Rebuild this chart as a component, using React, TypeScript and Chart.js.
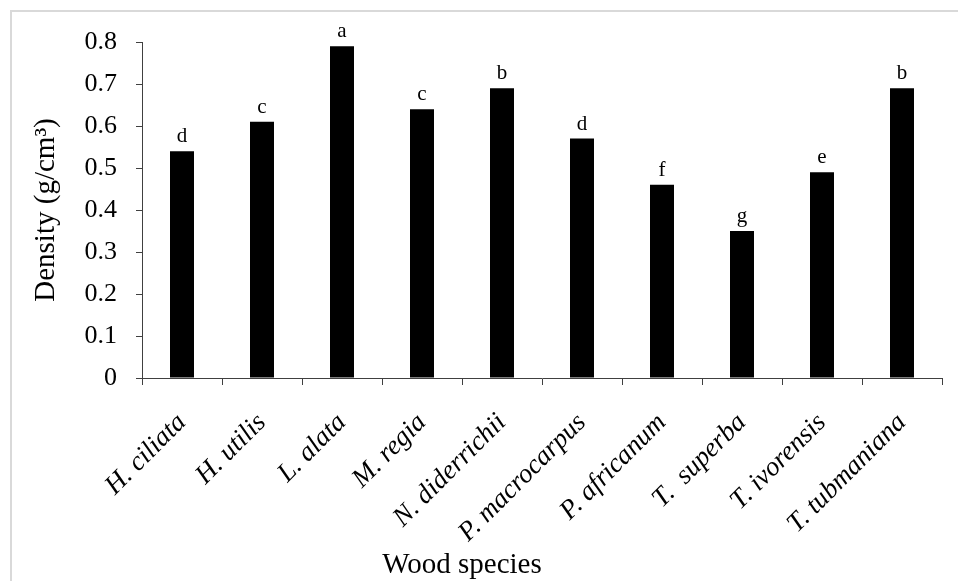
import React, { useEffect, useRef } from "react";
import { Chart, registerables } from "chart.js";

Chart.register(...registerables);

const species = [
  "H. ciliata",
  "H. utilis",
  "L. alata",
  "M. regia",
  "N. diderrichii",
  "P. macrocarpus",
  "P. africanum",
  "T.  superba",
  "T. ivorensis",
  "T. tubmaniana",
];
const density = [0.54, 0.61, 0.79, 0.64, 0.69, 0.57, 0.46, 0.35, 0.49, 0.69];
const groupLetters = ["d", "c", "a", "c", "b", "d", "f", "g", "e", "b"];
const yTicks = [0, 0.1, 0.2, 0.3, 0.4, 0.5, 0.6, 0.7, 0.8];
const xTitle = "Wood species";
const yTitle = "Density (g/cm³)";

const FONT = "'Liberation Serif', 'Times New Roman', serif";

const letterPlugin = {
  id: "letters",
  afterDatasetsDraw(chart: any) {
    const ctx = chart.ctx;
    const meta = chart.getDatasetMeta(0);
    ctx.save();
    ctx.fillStyle = "#000";
    ctx.font = `21px ${FONT}`;
    ctx.textAlign = "center";
    ctx.textBaseline = "alphabetic";
    meta.data.forEach((bar: any, i: number) => {
      ctx.fillText(groupLetters[i], bar.x, bar.y - 9);
    });
    // x-axis title, placed left of centre as in the original
    const area = chart.chartArea;
    ctx.font = `29px ${FONT}`;
    ctx.fillText(xTitle, area.left + (area.right - area.left) * 0.4, chart.height - 8);
    ctx.restore();
  },
};

export default function App() {
  const ref = useRef<HTMLCanvasElement | null>(null);

  useEffect(() => {
    if (!ref.current) return;
    const chart = new Chart(ref.current, {
      type: "bar",
      data: {
        labels: species,
        datasets: [
          {
            data: density,
            backgroundColor: "#000000",
            borderWidth: 0,
            categoryPercentage: 1,
            barPercentage: 0.3,
          },
        ],
      },
      plugins: [letterPlugin],
      options: {
        responsive: false,
        animation: false,
        devicePixelRatio: 1,
        layout: { padding: { left: 0, right: 16, top: 42, bottom: 0 } },
        plugins: {
          legend: { display: false },
          tooltip: { enabled: false },
        },
        scales: {
          x: {
            grid: {
              offset: true,
              drawOnChartArea: false,
              drawTicks: true,
              tickLength: 7,
              color: "#404040",
            },
            border: { display: true, color: "#404040", width: 1 },
            ticks: {
              autoSkip: false,
              minRotation: 45,
              maxRotation: 45,
              color: "#000",
              padding: 22,
              font: { family: FONT, size: 27, style: "italic" },
            },
            title: { display: false },
            afterFit: (scale: any) => {
              scale.height = 203;
            },
          },
          y: {
            min: 0,
            max: 0.8,
            afterBuildTicks: (scale: any) => {
              scale.ticks = yTicks.map((v) => ({ value: v }));
            },
            grid: {
              drawOnChartArea: false,
              drawTicks: true,
              tickLength: 6,
              color: "#404040",
            },
            border: { display: true, color: "#404040", width: 1 },
            ticks: {
              color: "#000",
              padding: 19,
              font: { family: FONT, size: 26 },
              callback: (v: any) => String(Math.round(Number(v) * 10) / 10),
            },
            title: {
              display: true,
              text: yTitle,
              color: "#000",
              font: { family: FONT, size: 29 },
              padding: { top: 29, bottom: 0 },
            },
            afterFit: (scale: any) => {
              scale.width = 142;
            },
          },
        },
      },
    });
    return () => chart.destroy();
  }, []);

  return (
    <div
      style={{
        position: "absolute",
        left: 0,
        top: 0,
        width: 958,
        height: 581,
        overflow: "hidden",
        background: "#fff",
      }}
    >
      <div
        style={{
          position: "absolute",
          left: 10,
          top: 10,
          width: 1000,
          height: 700,
          border: "2px solid #d9d9d9",
          boxSizing: "border-box",
        }}
      />
      <canvas
        ref={ref}
        width={958}
        height={581}
        style={{ position: "absolute", left: 0, top: 0, width: 958, height: 581 }}
      />
    </div>
  );
}
